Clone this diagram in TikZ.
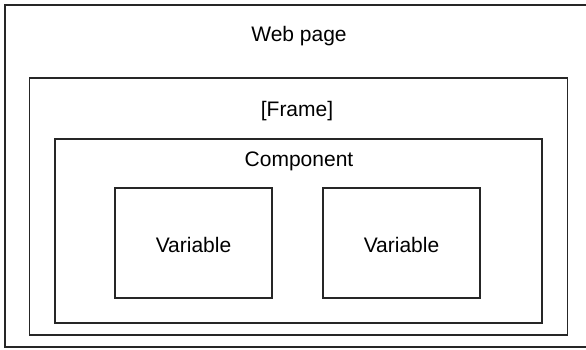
\documentclass[tikz,border=0pt]{standalone}
\usepackage{fontspec}
\setmainfont{Liberation Sans}
\begin{document}
\begin{tikzpicture}[x=1pt,y=-1pt,
  box/.style={draw=black!85,line width=1.2pt,inner sep=0pt},
  lbl/.style={font=\fontsize{21}{25}\selectfont,anchor=base,inner sep=0pt}]
\useasboundingbox (0,0) rectangle (586,349);
\draw[box] (5,5) rectangle (595,347);
\node[box,minimum width=538pt,minimum height=257pt] (frame) at (298.5,206.5) {};
\node[box,minimum width=487pt,minimum height=184pt] (comp) at (298.5,231) {};
\node[box,minimum width=157pt,minimum height=110pt] (v1) at (193.5,243) {};
\node[box,minimum width=157pt,minimum height=110pt] (v2) at (401.5,243) {};
\node[lbl] (tweb) at (299,41) {Web page};
\node[lbl] (tframe) at (297,116.5) {[Frame]};
\node[lbl] (tcomp) at (299,166.5) {Component};
\node[lbl] (tv1) at (193.5,252.5) {Variable};
\node[lbl] (tv2) at (401.5,252.5) {Variable};
\end{tikzpicture}
\end{document}
